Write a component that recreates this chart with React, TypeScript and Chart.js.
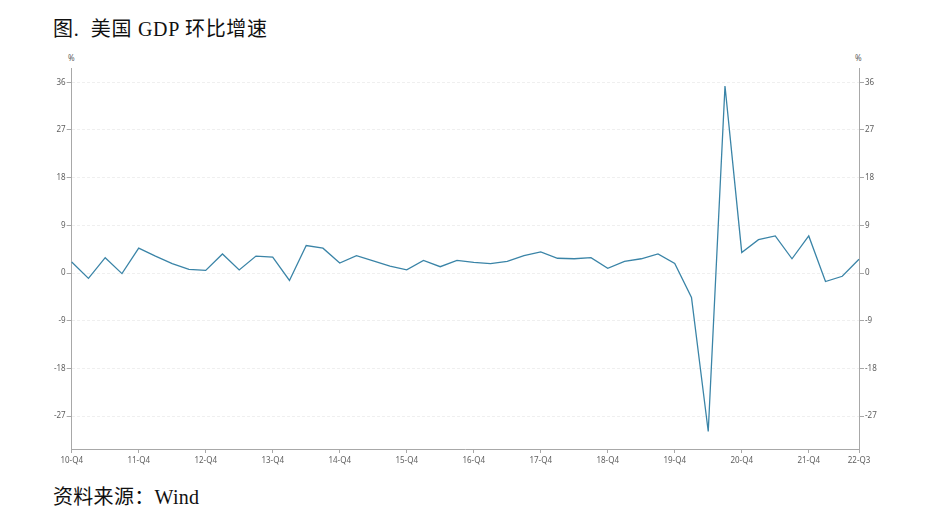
import { useEffect, useRef } from 'react'
import { Chart, registerables } from 'chart.js'

Chart.register(...registerables)

const QUARTERS = [
  '10-Q4',
  '11-Q1', '11-Q2', '11-Q3', '11-Q4',
  '12-Q1', '12-Q2', '12-Q3', '12-Q4',
  '13-Q1', '13-Q2', '13-Q3', '13-Q4',
  '14-Q1', '14-Q2', '14-Q3', '14-Q4',
  '15-Q1', '15-Q2', '15-Q3', '15-Q4',
  '16-Q1', '16-Q2', '16-Q3', '16-Q4',
  '17-Q1', '17-Q2', '17-Q3', '17-Q4',
  '18-Q1', '18-Q2', '18-Q3', '18-Q4',
  '19-Q1', '19-Q2', '19-Q3', '19-Q4',
  '20-Q1', '20-Q2', '20-Q3', '20-Q4',
  '21-Q1', '21-Q2', '21-Q3', '21-Q4',
  '22-Q1', '22-Q2', '22-Q3',
]

// 美国GDP环比折年率 (%)
const GDP_QOQ = [
  2.1,
  -1.0, 2.9, -0.1, 4.7,
  3.2, 1.8, 0.7, 0.5,
  3.6, 0.6, 3.2, 3.0,
  -1.4, 5.2, 4.7, 1.9,
  3.3, 2.3, 1.3, 0.6,
  2.4, 1.2, 2.4, 2.0,
  1.8, 2.2, 3.3, 4.0,
  2.8, 2.7, 2.9, 0.9,
  2.2, 2.7, 3.6, 1.8,
  -4.6, -29.9, 35.3, 3.9,
  6.3, 7.0, 2.7, 7.0,
  -1.6, -0.6, 2.6,
]

const Y_TICKS = [-27, -18, -9, 0, 9, 18, 27, 36]
const X_TICK_LABELS = ['10-Q4', '11-Q4', '12-Q4', '13-Q4', '14-Q4', '15-Q4', '16-Q4', '17-Q4', '18-Q4', '19-Q4', '20-Q4', '21-Q4', '22-Q3']

const Y_MIN = -33.2
const Y_MAX = 38.7
const AXIS_COLOR = '#a8a8a8'
const TICK_FONT = { family: "'Noto Sans', 'Open Sans', sans-serif", size: 8 }

function yAxis(position: 'left' | 'right', drawGrid: boolean) {
  return {
    type: 'linear' as const,
    position,
    min: Y_MIN,
    max: Y_MAX,
    afterBuildTicks: (scale: any) => {
      scale.ticks = Y_TICKS.map(v => ({ value: v }))
    },
    afterFit: (scale: any) => {
      scale.width = position === 'left' ? 51.7 : 51
    },
    grid: {
      drawOnChartArea: drawGrid,
      color: '#efefef',
      lineWidth: 1,
      tickLength: 5,
      tickColor: AXIS_COLOR,
    },
    border: { display: true, color: AXIS_COLOR, width: 1, dash: [3, 2] },
    ticks: { color: '#606060', font: TICK_FONT, padding: 1 },
  }
}

function GdpChart() {
  const chartRef = useRef<HTMLCanvasElement>(null)
  const chartInstance = useRef<Chart | null>(null)

  useEffect(() => {
    if (!chartRef.current) return
    if (chartInstance.current) chartInstance.current.destroy()

    chartInstance.current = new Chart(chartRef.current, {
      type: 'line',
      data: {
        labels: QUARTERS,
        datasets: [{
          label: '美国GDP环比增速',
          data: GDP_QOQ,
          borderColor: '#3a84a7',
          borderWidth: 1.3,
          pointRadius: 0,
          tension: 0,
          yAxisID: 'y',
        }],
      },
      options: {
        responsive: false,
        maintainAspectRatio: false,
        animation: false,
        layout: { padding: { top: 28, left: 0, right: 0, bottom: 0 } },
        plugins: { legend: { display: false }, tooltip: { enabled: false } },
        scales: {
          x: {
            type: 'category',
            offset: false,
            afterBuildTicks: (scale: any) => {
              scale.ticks = scale.ticks.filter((t: any) => X_TICK_LABELS.includes(QUARTERS[t.value]))
            },
            afterFit: (scale: any) => { scale.height = 31 },
            grid: { drawOnChartArea: false, tickLength: 4, tickColor: AXIS_COLOR },
            border: { display: true, color: AXIS_COLOR, width: 1 },
            ticks: { autoSkip: false, maxRotation: 0, color: '#606060', font: TICK_FONT, padding: 3 },
          },
          y: yAxis('left', true),
          y2: yAxis('right', false),
        },
      },
    })

    return () => { chartInstance.current?.destroy() }
  }, [])

  return <canvas ref={chartRef} width={890} height={440} style={{ position: 'absolute', left: 20, top: 40, width: 890, height: 440 }} />
}

export default function App() {
  const textFont = "'Liberation Serif', 'Times New Roman', 'Noto Sans CJK SC', serif"
  const pct = { position: 'absolute' as const, top: 52, fontSize: 8, color: '#606060', fontFamily: "'Noto Sans', sans-serif" }
  return (
    <div style={{ position: 'absolute', left: 0, top: 0, width: 940, height: 528, background: '#fff', overflow: 'hidden' }}>
      <div style={{ position: 'absolute', left: 53, top: 13, fontSize: 20, color: '#111', fontFamily: textFont, whiteSpace: 'pre', letterSpacing: 0.7 }}>
        图.  美国 GDP 环比增速
      </div>
      <div style={{ ...pct, left: 68 }}>%</div>
      <div style={{ ...pct, left: 855 }}>%</div>
      <GdpChart />
      <div style={{ position: 'absolute', left: 53, top: 481, fontSize: 20, color: '#111', fontFamily: textFont, whiteSpace: 'nowrap', letterSpacing: 0.3 }}>
        资料来源：Wind
      </div>
    </div>
  )
}
